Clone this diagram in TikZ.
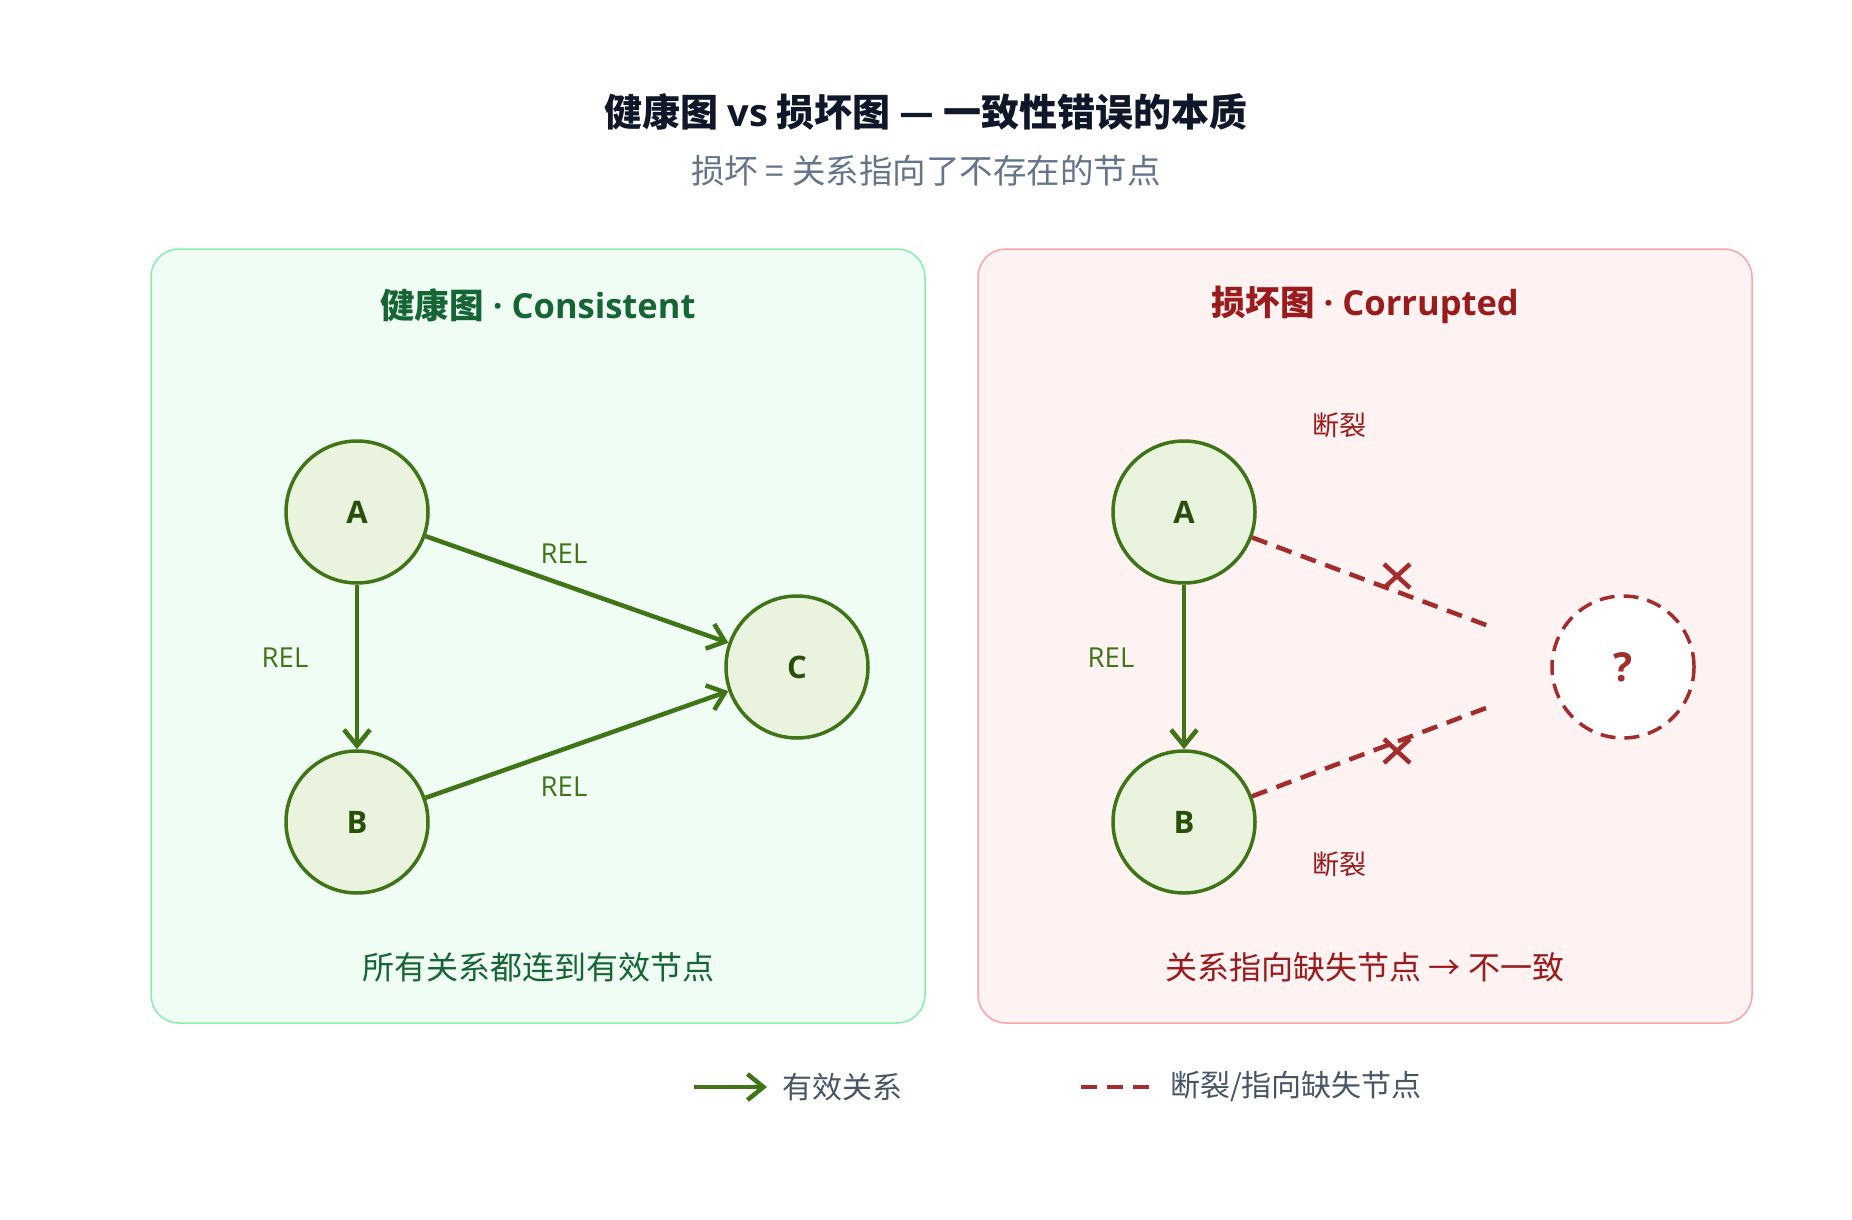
\documentclass[tikz,border=0pt]{standalone}
\usepackage{fontspec}
\setmainfont{Open Sans}
\newfontfamily\cjk{Noto Sans CJK SC}
\usetikzlibrary{arrows.meta}
\definecolor{titlec}{HTML}{0F172A}
\definecolor{subc}{HTML}{64748B}
\definecolor{legc}{HTML}{475569}
\definecolor{gpanel}{HTML}{F0FDF4}
\definecolor{gborder}{HTML}{86EFAC}
\definecolor{gtitle}{HTML}{166534}
\definecolor{nfill}{HTML}{EAF3DE}
\definecolor{nstroke}{HTML}{3F7417}
\definecolor{ntext}{HTML}{28500C}
\definecolor{rpanel}{HTML}{FEF2F2}
\definecolor{rborder}{HTML}{FCA5A5}
\definecolor{rtitle}{HTML}{991B1B}
\definecolor{rline}{HTML}{A32D2D}
\newcommand\fsz[1]{\fontsize{#1}{#1}\selectfont}
\begin{document}
\begin{tikzpicture}[x=1pt,y=-1pt,
  txt/.style={inner sep=0pt, outer sep=0pt},
  panel/.style={rounded corners=28pt, line width=1.5pt},
  gnode/.style={circle, draw=nstroke, fill=nfill, line width=3.5pt, minimum size=142pt, inner sep=0pt,
     font=\bfseries\fsz{31}, text=ntext},
  qnode/.style={circle, draw=rline, fill=white, line width=3.5pt, minimum size=142pt, inner sep=0pt,
     dash pattern=on 15pt off 9pt, font=\bfseries\fsz{40}, text=rline},
  garrow/.style={draw=nstroke, line width=4.5pt, -{Straight Barb[length=16pt,width=26pt]}},
  rdash/.style={draw=rline, line width=4.5pt, dash pattern=on 16pt off 10pt},
  xmark/.style={draw=rline, line width=4.5pt},
  rel/.style={txt, font=\fsz{27.5}, text=nstroke},
  brk/.style={txt, font=\cjk\fsz{27}, text=rtitle}
]
\useasboundingbox[fill=white] (0,0) rectangle (1852,1220);

% titles
\node[txt, font=\cjk\bfseries\fsz{38}, text=titlec] (title) at (926,112)
  {健康图 {\rmfamily\bfseries vs} 损坏图 — 一致性错误的本质};
\node[txt, font=\cjk\fsz{33.5}, text=subc] (subtitle) at (926,171)
  {损坏 = 关系指向了不存在的节点};

% panels
\draw[panel, draw=gborder, fill=gpanel] (151,249) rectangle (925,1023);
\draw[panel, draw=rborder, fill=rpanel] (978,249) rectangle (1752,1023);

\node[txt, font=\bfseries\fsz{34.5}, text=gtitle] (gt) at (538,305)
  {{\cjk\bfseries 健康图} · Consistent};
\node[txt, font=\bfseries\fsz{34.5}, text=rtitle] (rt) at (1365,305)
  {{\cjk\bfseries 损坏图} · Corrupted};

% left graph
\node[gnode] (LA) at (357,512) {A};
\node[gnode] (LB) at (357,822) {B};
\node[gnode] (LC) at (797,667) {C};
\draw[garrow] (LA) -- (LB);
\draw[garrow] (LA) -- (LC);
\draw[garrow] (LB) -- (LC);
\node[rel] (l1) at (285,658) {REL};
\node[rel] (l2) at (564,554) {REL};
\node[rel] (l3) at (564,787) {REL};
\node[txt, font=\cjk\fsz{32}, text=gtitle] (lbot) at (538,967) {所有关系都连到有效节点};

% right graph
\node[gnode] (RA) at (1184,512) {A};
\node[gnode] (RB) at (1184,822) {B};
\node[qnode] (RQ) at (1623,667) {?};
\draw[garrow] (RA) -- (RB);
\node[rel] (r1) at (1111,658) {REL};
\coordinate (RAe) at (1494,628);
\coordinate (RBe) at (1494,705);
\draw[rdash] (RA) -- (RAe);
\draw[rdash] (RB) -- (RBe);
\coordinate (X1) at (1397,576);
\coordinate (X2) at (1397,751);
\draw[xmark] ([shift={(-13,-12)}]X1) -- ([shift={(13,12)}]X1)
             ([shift={(-13,12)}]X1) -- ([shift={(13,-12)}]X1);
\draw[xmark] ([shift={(-13,-12)}]X2) -- ([shift={(13,12)}]X2)
             ([shift={(-13,12)}]X2) -- ([shift={(13,-12)}]X2);
\node[brk] (b1) at (1339,425) {断裂};
\node[brk] (b2) at (1339,864) {断裂};
\node[txt, font=\cjk\fsz{32}, text=rtitle] (rbot) at (1365,967) {关系指向缺失节点 → 不一致};

% legend
\coordinate (lg1s) at (694,1087);
\coordinate (lg1e) at (767,1087);
\draw[garrow] (lg1s) -- (lg1e);
\node[txt, anchor=west, font=\cjk\fsz{30}, text=legc] (lg1t) at (782,1087) {有效关系};
\coordinate (lg2s) at (1081,1087);
\coordinate (lg2e) at (1149,1087);
\draw[rdash] (lg2s) -- (lg2e);
\node[txt, anchor=west, font=\cjk\fsz{30}, text=legc] (lg2t) at (1170,1087) {断裂/指向缺失节点};
\end{tikzpicture}
\end{document}
